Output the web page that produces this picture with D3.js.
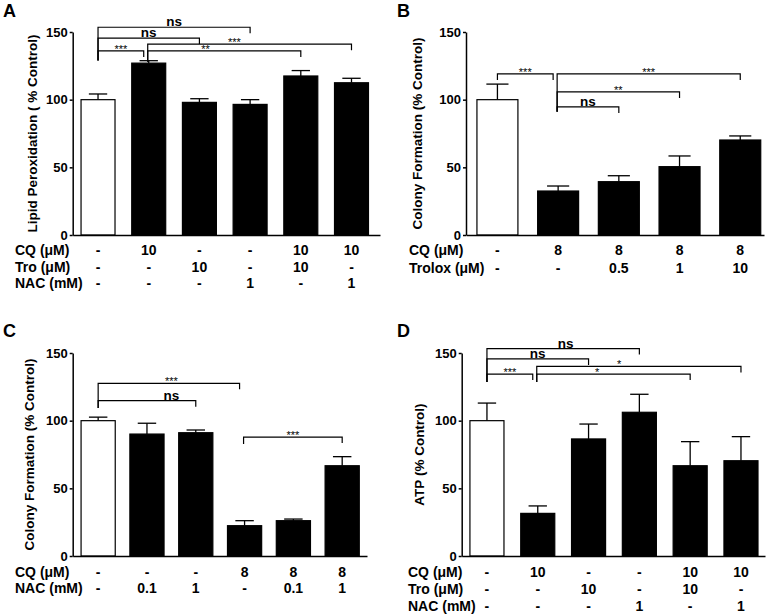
<!DOCTYPE html>
<html>
<head>
<meta charset="utf-8">
<script src="https://cdn.jsdelivr.net/npm/d3@7"></script>
<style>
  body { margin: 0; background: #fff; }
  svg { display: block; font-family: "Liberation Sans", Arial, sans-serif; }
</style>
</head>
<body>
<svg id="fig" width="768" height="615"></svg>
<script>
// shared y ticks
const yTicks = [0, 50, 100, 150];

// Panel A - lipid peroxidation
const aMeans = [100, 127, 98, 96.5, 117.5, 112.5];
const aErrors = [4.2, 1.8, 2.7, 3.5, 4, 3.3];
const aCQ = ['-', '10', '-', '-', '10', '10'];
const aTro = ['-', '-', '10', '-', '10', '-'];
const aNAC = ['-', '-', '-', '1', '-', '1'];
const aSig = [
  { from: 0, to: 3, y: 153.5, base: 129, label: 'ns' },
  { from: 0, to: 2, y: 145.5, base: 129, label: 'ns' },
  { from: 0, to: 1, y: 136, base: 129, label: '***' },
  { from: 1, to: 5, y: 141, base: 128, label: '***', at: 2.69 },
  { from: 1, to: 4, y: 136, base: 128, label: '**', at: 2.12 }
];

// Panel B - colony formation, trolox
const bMeans = [100, 32.5, 39.4, 50.5, 70.2];
const bErrors = [11.5, 3.7, 4.4, 7.9, 3];
const bCQ = ['-', '8', '8', '8', '8'];
const bTrolox = ['-', '-', '0.5', '1', '10'];
const bSig = [
  { from: 0, to: 1, y: 119, base: 114.5, label: '***' },
  { from: 1, to: 4, y: 119, base: 91, label: '***' },
  { from: 1, to: 3, y: 105.7, base: 91, label: '**' },
  { from: 1, to: 2, y: 94.6, base: 91, label: 'ns' }
];

// Panel C - colony formation, NAC
const cMeans = [100, 90.1, 91.1, 22.4, 26.1, 66.7];
const cErrors = [2.6, 8, 2, 3.7, 1.2, 6.7];
const cCQ = ['-', '-', '-', '8', '8', '8'];
const cNAC = ['-', '0.1', '1', '-', '0.1', '1'];
const cSig = [
  { from: 0, to: 3, y: 127.6, base: 109.4, label: '***', at: 1.5 },
  { from: 0, to: 2, y: 114.8, base: 109.4, label: 'ns', at: 1.5 },
  { from: 3, to: 5, y: 87.9, base: 82.8, label: '***' }
];

// Panel D - ATP
const dMeans = [100, 31.5, 86.5, 106.2, 66.7, 70.4];
const dErrors = [13, 5.5, 11, 13.3, 17.8, 17.8];
const dCQ = ['-', '10', '-', '-', '10', '10'];
const dTro = ['-', '-', '10', '-', '10', '-'];
const dNAC = ['-', '-', '-', '1', '-', '1'];
const dSig = [
  { from: 0, to: 3, y: 153.3, base: 128.5, label: 'ns', at: 1.55 },
  { from: 0, to: 2, y: 145.6, base: 128.5, label: 'ns' },
  { from: 0, to: 1, y: 134.4, base: 128.5, label: '***' },
  { from: 1, to: 5, y: 140.1, base: 128.5, label: '*', at: 2.6 },
  { from: 1, to: 4, y: 134.4, base: 128.5, label: '*', at: 2.17 }
];

const panels = [
  {
    letter: 'A', lx: 3, ly: 16.5, ylabel: 'Lipid Peroxidation ( % Control)', ylabelX: 37,
    left: 72.7, right: 380, top: 32, bottom: 235, padIn: 0.33, padOut: 0.196, align: 0.42,
    means: aMeans, errors: aErrors, sig: aSig,
    rows: [['CQ (\u03bcM)', aCQ], ['Tro (\u03bcM)', aTro], ['NAC (mM)', aNAC]],
    rowX: 15, rowY: [255, 272, 288]
  },
  {
    letter: 'B', lx: 397, ly: 16.5, ylabel: 'Colony Formation (% Control)', ylabelX: 422,
    left: 466, right: 764, top: 32, bottom: 235, padIn: 0.325, padOut: 0.117, align: 0.77,
    means: bMeans, errors: bErrors, sig: bSig,
    rows: [['CQ (\u03bcM)', bCQ], ['Trolox (\u03bcM)', bTrolox]],
    rowX: 409, rowY: [255, 273]
  },
  {
    letter: 'C', lx: 3, ly: 337, ylabel: 'Colony Formation (% Control)', ylabelX: 34,
    left: 72.7, right: 367, top: 353, bottom: 556, padIn: 0.30, padOut: 0.165, align: 0.52,
    means: cMeans, errors: cErrors, sig: cSig,
    rows: [['CQ (\u03bcM)', cCQ], ['NAC (mM)', cNAC]],
    rowX: 15, rowY: [577, 593]
  },
  {
    letter: 'D', lx: 397, ly: 337, ylabel: 'ATP (% Control)', ylabelX: 424,
    left: 461.7, right: 765, top: 353, bottom: 556, padIn: 0.33, padOut: 0.15, align: 0.54,
    means: dMeans, errors: dErrors, sig: dSig,
    rows: [['CQ (\u03bcM)', dCQ], ['Tro (\u03bcM)', dTro], ['NAC (mM)', dNAC]],
    rowX: 408, rowY: [577, 594, 611]
  }
];

const svg = d3.select('#fig');

function drawPanel(p) {
  const g = svg.append('g');
  const n = p.means.length;

  const y = d3.scaleLinear().domain([0, 150]).range([p.bottom, p.top]);
  const x = d3.scaleBand()
    .domain(d3.range(n))
    .range([p.left, p.right])
    .paddingInner(p.padIn)
    .paddingOuter(p.padOut)
    .align(p.align);
  const cx = i => x(i) + x.bandwidth() / 2;
  const xAt = v => cx(0) + v * x.step();

  // error bars (upper whisker only)
  const cap = x.bandwidth() * 0.27;
  const err = g.append('g').attr('stroke', '#000').attr('stroke-width', 1.3);
  p.means.forEach((m, i) => {
    err.append('line')
      .attr('x1', cx(i)).attr('x2', cx(i))
      .attr('y1', y(m)).attr('y2', y(m + p.errors[i]));
    err.append('line')
      .attr('x1', cx(i) - cap).attr('x2', cx(i) + cap)
      .attr('y1', y(m + p.errors[i])).attr('y2', y(m + p.errors[i]));
  });

  // bars
  g.selectAll('rect.bar')
    .data(p.means)
    .join('rect')
    .attr('class', 'bar')
    .attr('x', (d, i) => x(i))
    .attr('y', d => y(d))
    .attr('width', x.bandwidth())
    .attr('height', d => y(0) - y(d))
    .attr('fill', (d, i) => i === 0 ? '#fff' : '#000')
    .attr('stroke', '#000')
    .attr('stroke-width', 1.2);

  // axes
  const yAxis = g.append('g')
    .attr('transform', `translate(${p.left},0)`)
    .call(d3.axisLeft(y).tickValues(yTicks).tickSize(3).tickSizeOuter(0).tickPadding(2));
  yAxis.selectAll('text')
    .attr('font-size', 13).attr('font-weight', 'bold').attr('fill', '#000')
    .attr('font-family', '"Liberation Sans", Arial, sans-serif');
  yAxis.selectAll('path, line').attr('stroke', '#000').attr('stroke-width', 1.5);

  const xAxis = g.append('g')
    .attr('transform', `translate(0,${p.bottom})`)
    .call(d3.axisBottom(x).tickSize(0).tickSizeOuter(0).tickFormat(''));
  xAxis.selectAll('path').attr('stroke', '#000').attr('stroke-width', 1.5);
  xAxis.selectAll('.tick').remove();

  // y label
  g.append('text')
    .attr('transform', `translate(${p.ylabelX},${(p.top + p.bottom) / 2}) rotate(-90)`)
    .attr('text-anchor', 'middle')
    .attr('font-size', 13.5)
    .attr('font-weight', 'bold')
    .text(p.ylabel);

  // panel letter
  svg.append('text')
    .attr('x', p.lx).attr('y', p.ly)
    .attr('font-size', 18).attr('font-weight', 'bold')
    .text(p.letter);

  // significance brackets
  const starts = new Set(p.sig.map(s => s.from));
  const br = g.append('g');
  p.sig.forEach(s => {
    const x1 = cx(s.from) - (s.from > 0 ? 1 : 0);
    const x2 = cx(s.to) - (starts.has(s.to) && s.to > s.from ? 5 : 0);
    const yy = y(s.y);
    br.append('path')
      .attr('d', `M${x1},${y(s.base)}V${yy}H${x2}V${yy + 6}`)
      .attr('fill', 'none')
      .attr('stroke', '#000')
      .attr('stroke-width', 1.2);
    const tx = s.at !== undefined ? xAt(s.at) : (x1 + x2) / 2;
    const isNs = s.label === 'ns';
    br.append('text')
      .attr('x', tx)
      .attr('y', isNs ? yy - 1 : yy + 2)
      .attr('text-anchor', 'middle')
      .attr('font-size', isNs ? 13.5 : 11)
      .attr('font-weight', isNs ? 'bold' : 'normal')
      .text(s.label);
  });

  // treatment table under the bars
  p.rows.forEach(([name, vals], r) => {
    const ty = p.rowY[r];
    g.append('text')
      .attr('x', p.rowX).attr('y', ty)
      .attr('font-size', 14).attr('font-weight', 'bold')
      .text(name);
    g.selectAll(null)
      .data(vals)
      .join('text')
      .attr('x', (d, i) => cx(i))
      .attr('y', ty)
      .attr('text-anchor', 'middle')
      .attr('font-size', 14)
      .attr('font-weight', 'bold')
      .text(d => d);
  });
}

panels.forEach(drawPanel);
</script>
</body>
</html>
